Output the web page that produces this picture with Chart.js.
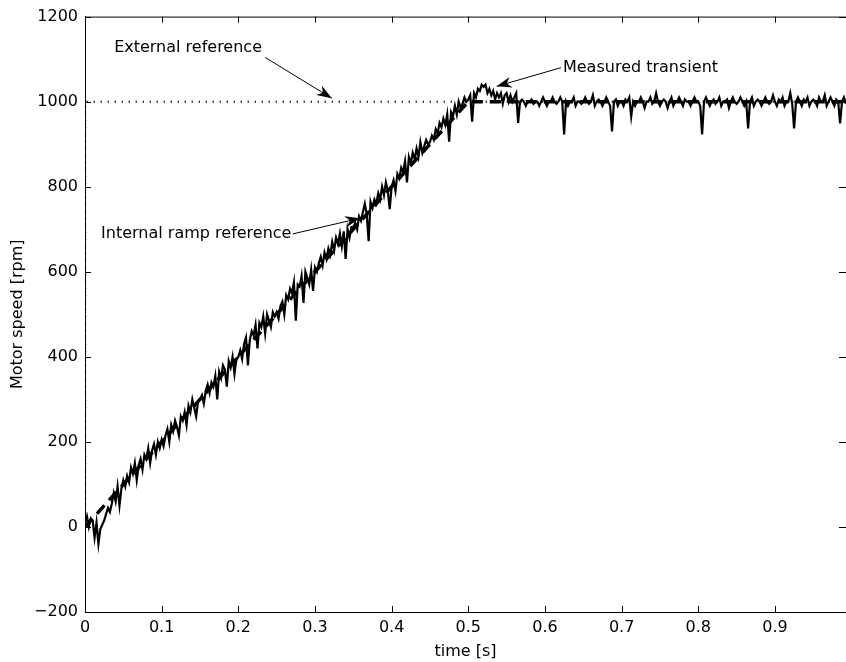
<!DOCTYPE html>
<html>
<head>
<meta charset="utf-8">
<title>Motor speed</title>
<script src="https://cdn.jsdelivr.net/npm/chart.js@4.4.1/dist/chart.umd.min.js"></script>
<style>
    body { margin: 0; background: #fff; }
    #chart { display: block; }
</style>
</head>
<body>
<canvas id="chart" width="846" height="662"></canvas>
<script>
    // sample time of the logged speed [s]
    var sampleStep = 0.0025;

    // measured speed while ramping, 0 .. 0.4975 s
    var measuredRamp = [
        10, 25, 0, 20, 15, -25, 10, -40, -5, 5, 15, 30, 45, 35, 55, 80, 60, 95, 50, 90,
        110, 95, 120, 105, 140, 125, 150, 110, 145, 160, 135, 170, 160, 185, 150, 180, 195, 170, 200, 185,
        205, 190, 215, 230, 200, 240, 225, 250, 235, 215, 260, 250, 270, 240, 285, 270, 300, 280, 260, 295,
        300, 310, 290, 320, 335, 315, 340, 330, 355, 300, 365, 350, 380, 370, 330, 390, 375, 400, 360, 395,
        400, 415, 395, 430, 445, 380, 440, 460, 450, 475, 420, 480, 470, 495, 455, 500, 485, 470, 505, 495,
        505, 490, 520, 530, 500, 545, 535, 560, 550, 575, 485, 570, 565, 590, 527, 600, 585, 570, 605, 555,
        610, 600, 620, 635, 615, 645, 630, 655, 640, 670, 650, 680, 665, 690, 660, 695, 630, 700, 680, 705,
        705, 715, 700, 730, 720, 740, 760, 735, 672, 765, 750, 770, 760, 785, 770, 800, 780, 810, 790, 747,
        800, 815, 790, 830, 820, 845, 835, 860, 810, 870, 855, 880, 865, 890, 870, 905, 880, 895, 910, 900,
        905, 920, 910, 935, 925, 950, 940, 960, 945, 970, 906, 975, 965, 990, 970, 1000, 985, 995, 1010, 1000
    ];

    // measured speed after the ramp, 0.5 .. 0.9925 s
    var measuredSettled = [
        1005, 1015, 953, 1020, 1010, 1030, 1025, 1040, 1035, 1040, 1020, 1030, 1015, 1025, 1005, 1020, 1010, 1020, 995, 1015,
        1020, 1000, 1015, 1000, 1010, 1020, 950, 1000, 1005, 1000, 990, 1000, 1000, 1005, 995, 1000, 1000, 990, 1000, 1010,
        1000, 990, 1000, 1000, 1010, 1000, 995, 1000, 1010, 1000, 923, 1000, 990, 1000, 1000, 1010, 990, 1000, 1000, 995,
        1000, 1010, 1000, 995, 1000, 1015, 990, 1000, 1005, 1000, 990, 1000, 1010, 1000, 990, 930, 1000, 1005, 990, 1000,
        1000, 990, 1005, 1000, 1010, 965, 1000, 990, 1000, 1000, 1010, 1000, 985, 1000, 1000, 1010, 995, 1000, 1020, 1000,
        990, 1000, 1005, 1000, 985, 1000, 1010, 990, 1000, 1000, 1010, 1000, 990, 1005, 1000, 1000, 990, 1000, 1010, 1000,
        1000, 990, 923, 1000, 1010, 1000, 990, 1000, 1005, 995, 1000, 1010, 990, 1000, 1000, 1005, 985, 1000, 1010, 1000,
        995, 1000, 1010, 1000, 990, 1000, 937, 1000, 1010, 990, 1000, 1005, 1000, 990, 1000, 1010, 1000, 995, 1000, 1015,
        1000, 990, 1005, 1000, 1010, 990, 1000, 1000, 1020, 995, 937, 1000, 1010, 1000, 990, 1005, 1000, 1010, 990, 1000,
        1005, 1000, 990, 1010, 1000, 1000, 1015, 990, 1000, 1010, 1000, 990, 1005, 1000, 949, 1000, 1010, 995
    ];

    // internal ramp reference (corner points)
    var rampTime = [0, 0.5, 0.9927];
    var rampSpeed = [0, 1000, 1000];

    // external step reference
    var stepTime = [0, 0, 0.9927];
    var stepSpeed = [0, 1000, 1000];

    var xTicks = [0, 0.1, 0.2, 0.3, 0.4, 0.5, 0.6, 0.7, 0.8, 0.9];
    var yTicks = [-200, 0, 200, 400, 600, 800, 1000, 1200];

    // text + arrow, in data units
    var notes = [
        { text: 'External reference', at: [0.038, 1127], from: [0.235, 1104], to: [0.322, 1008] },
        { text: 'Measured transient', at: [0.6235, 1080], from: [0.621, 1080], to: [0.537, 1036] },
        { text: 'Internal ramp reference', at: [0.021, 689], from: [0.271, 689], to: [0.359, 726] }
    ];

    var measured = measuredRamp.concat(measuredSettled).map(function(v, i) {
        return { x: +(i * sampleStep).toFixed(4), y: v };
    });
    var ramp = rampTime.map(function(t, i) { return { x: t, y: rampSpeed[i] }; });
    var step = stepTime.map(function(t, i) { return { x: t, y: stepSpeed[i] }; });

    var FONT = 'DejaVu Sans';

    function arrow(ctx, x0, y0, x1, y1) {
        ctx.beginPath();
        ctx.moveTo(x0, y0);
        ctx.lineTo(x1, y1);
        ctx.stroke();
        var a = Math.atan2(y1 - y0, x1 - x0);
        var len = 15, half = 5.5;
        var bx = x1 - len * Math.cos(a), by = y1 - len * Math.sin(a);
        var nx = x1 - len * 0.7 * Math.cos(a), ny = y1 - len * 0.7 * Math.sin(a);
        ctx.beginPath();
        ctx.moveTo(x1, y1);
        ctx.lineTo(bx + half * Math.sin(a), by - half * Math.cos(a));
        ctx.lineTo(nx, ny);
        ctx.lineTo(bx - half * Math.sin(a), by + half * Math.cos(a));
        ctx.closePath();
        ctx.fill();
    }

    var decor = {
        id: 'decor',
        afterDatasetsDraw: function(chart) {
            var ctx = chart.ctx, area = chart.chartArea;
            var xs = chart.scales.x, ys = chart.scales.y;
            ctx.save();
            ctx.strokeStyle = '#000';
            ctx.fillStyle = '#000';
            ctx.lineWidth = 1;
            // top frame line
            ctx.beginPath();
            ctx.moveTo(area.left, area.top + 0.5);
            ctx.lineTo(area.right, area.top + 0.5);
            ctx.stroke();
            // inward ticks, all four sides
            ctx.beginPath();
            xTicks.forEach(function(t) {
                var px = Math.round(xs.getPixelForValue(t)) + 0.5;
                ctx.moveTo(px, area.bottom);
                ctx.lineTo(px, area.bottom - 6);
                ctx.moveTo(px, area.top);
                ctx.lineTo(px, area.top + 6);
            });
            yTicks.forEach(function(v) {
                var py = Math.round(ys.getPixelForValue(v)) + 0.5;
                ctx.moveTo(area.left, py);
                ctx.lineTo(area.left + 6, py);
                ctx.moveTo(area.right, py);
                ctx.lineTo(area.right - 7, py);
            });
            ctx.stroke();
            // annotations
            ctx.font = '16px "' + FONT + '"';
            ctx.textAlign = 'left';
            ctx.textBaseline = 'middle';
            notes.forEach(function(n) {
                ctx.fillText(n.text, xs.getPixelForValue(n.at[0]), ys.getPixelForValue(n.at[1]));
                arrow(ctx,
                    xs.getPixelForValue(n.from[0]), ys.getPixelForValue(n.from[1]),
                    xs.getPixelForValue(n.to[0]), ys.getPixelForValue(n.to[1]));
            });
            ctx.restore();
        }
    };

    var ctx = document.getElementById('chart').getContext('2d');
    var chart = new Chart(ctx, {
        type: 'line',
        data: {
            datasets: [{
                label: 'Measured transient',
                data: measured,
                borderColor: '#000',
                borderWidth: 2.2,
                pointRadius: 0,
                tension: 0
            }, {
                label: 'Internal ramp reference',
                data: ramp,
                borderColor: '#000',
                borderWidth: 3.5,
                borderDash: [11, 7],
                pointRadius: 0
            }, {
                label: 'External reference',
                data: step,
                borderColor: '#000',
                borderWidth: 2.5,
                borderDash: [1, 6],
                borderCapStyle: 'butt',
                pointRadius: 0
            }]
        },
        options: {
            responsive: false,
            animation: false,
            layout: { padding: { top: 15, right: 0, left: 0, bottom: 0 } },
            plugins: {
                legend: { display: false },
                tooltip: { enabled: false }
            },
            scales: {
                x: {
                    type: 'linear',
                    min: 0,
                    max: 0.9927,
                    afterFit: function(s) { s.height = 50; },
                    afterBuildTicks: function(s) {
                        s.ticks = xTicks.map(function(v) { return { value: v }; });
                    },
                    grid: { display: false, drawTicks: false },
                    border: { display: true, color: '#000', width: 1 },
                    ticks: {
                        color: '#000',
                        padding: 6,
                        font: { family: FONT, size: 16 },
                        maxRotation: 0,
                        callback: function(v) { return String(Math.round(v * 10) / 10); }
                    },
                    title: {
                        display: true,
                        text: 'time [s]',
                        color: '#000',
                        font: { family: FONT, size: 16 },
                        padding: { top: 0, bottom: 1 }
                    }
                },
                y: {
                    type: 'linear',
                    min: -200,
                    max: 1200,
                    afterFit: function(s) { s.width = 85; },
                    afterBuildTicks: function(s) {
                        s.ticks = yTicks.map(function(v) { return { value: v }; });
                    },
                    grid: { display: false, drawTicks: false },
                    border: { display: true, color: '#000', width: 1 },
                    ticks: {
                        color: '#000',
                        padding: 7,
                        font: { family: FONT, size: 16 },
                        callback: function(v) { return String(v).replace('-', '\u2212'); }
                    },
                    title: {
                        display: true,
                        text: 'Motor speed [rpm]',
                        color: '#000',
                        font: { family: FONT, size: 16 },
                        padding: { top: 8, bottom: 0 }
                    }
                }
            }
        },
        plugins: [decor]
    });
</script>
</body>
</html>
